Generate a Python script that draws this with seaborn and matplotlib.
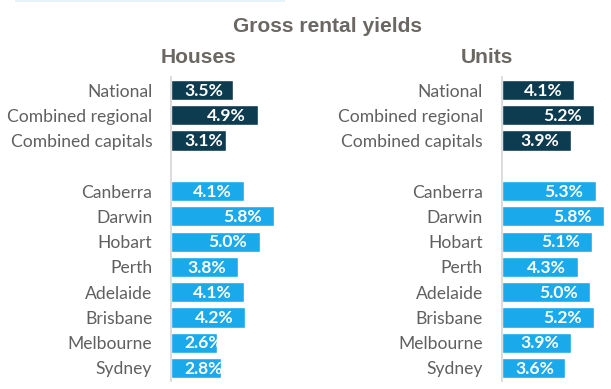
import matplotlib
matplotlib.use("Agg")
import matplotlib.pyplot as plt
import seaborn as sns
import pandas as pd
from matplotlib.patches import Rectangle

# data
places = ['National', 'Combined regional', 'Combined capitals',
          'Canberra', 'Darwin', 'Hobart', 'Perth', 'Adelaide',
          'Brisbane', 'Melbourne', 'Sydney']
segment = ['Summary'] * 3 + ['Capital'] * 8
houses = [3.5, 4.9, 3.1, 4.1, 5.8, 5.0, 3.8, 4.1, 4.2, 2.6, 2.8]
units = [4.1, 5.2, 3.9, 5.3, 5.8, 5.1, 4.3, 5.0, 5.2, 3.9, 3.6]

# blank slot between the summary rows and the capital cities
order = places[:3] + [' '] + places[3:]
palette = {'Summary': '#0d3b50', 'Capital': '#1aa9ea'}

sns.set_style('white')
plt.rcParams['font.family'] = ['Lato', 'DejaVu Sans']

fig = plt.figure(figsize=(6.11, 3.89), dpi=100)
W, H = 611, 389
px_per_pct = 17.7
ax_w = 109  # px
top_px, bot_px = 77.4, 380.6

heading = dict(family='Liberation Sans', fontweight='bold', color='#6b6763')
fig.text(327.5 / W, 1 - 32 / H, 'Gross rental yields', ha='center', va='baseline',
         fontsize=15.1, **heading)

panels = [('Houses', houses, 171.0, 199.0), ('Units', units, 501.7, 486.5)]
for name, vals, left_px, head_x in panels:
    df = pd.DataFrame({'place': places, 'yield': vals, 'segment': segment})
    ax = fig.add_axes([left_px / W, (H - bot_px) / H, ax_w / W, (bot_px - top_px) / H])
    sns.barplot(data=df, y='place', x='yield', hue='segment', order=order,
                palette=palette, dodge=False, width=0.8, legend=False,
                saturation=1, ax=ax)
    ax.set_xlim(0, ax_w / px_per_pct)
    ax.set_ylim(len(order) - 0.5, -0.5)
    ax.set_xlabel('')
    ax.set_ylabel('')
    ax.set_xticks([])
    for s in ['top', 'right', 'bottom']:
        ax.spines[s].set_visible(False)
    ax.spines['left'].set_color('#d9d9d9')
    ax.spines['left'].set_linewidth(1.3)
    ax.tick_params(axis='y', length=0, pad=13.5, labelsize=12.6, labelcolor='#606060')

    # value labels, white, near the end of each bar
    for i, cat in enumerate(order):
        if cat not in places:
            continue
        v = vals[places.index(cat)]
        ax.text(max(v - 0.68, 2.94), i + 0.03, f'{v:.1f}%', ha='right', va='center',
                color='white', fontweight='bold', fontsize=12.6)

    fig.text(head_x / W, 1 - 63 / H, name, ha='center', va='baseline',
             fontsize=15.1, **heading)

# faint strip at the very top of the original picture
fig.patches.append(Rectangle((15 / W, 1 - 2 / H), 270 / W, 2 / H,
                             transform=fig.transFigure, color='#e4f2fa', lw=0))

fig.savefig('out.png', dpi=100)
